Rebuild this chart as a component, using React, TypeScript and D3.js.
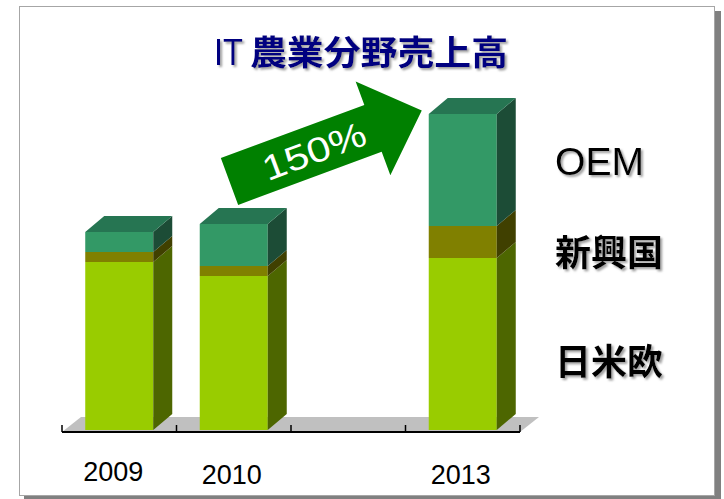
import React from "react";
import * as d3 from "d3";

const categories = ["2009", "2010", "", "2013"];
const seriesNames = ["日米欧", "新興国", "OEM"];
const japanUsEu = [168, 154, 0, 172];
const emerging = [10, 10, 0, 32];
const oem = [20, 42, 0, 112];
const growthLabel = "150%";
const title = "IT農業分野売上高";

const W = 724;
const H = 499;
const DX = 19;
const DY = 16;

const faceColors = [
  { front: "#99CC00", side: "#4D6600", top: "#779E00" },
  { front: "#808000", side: "#404000", top: "#606000" },
  { front: "#339966", side: "#1C4C36", top: "#267552" },
];

export default function App() {
  const x = d3
    .scaleBand<string>()
    .domain(categories.map((c, i) => c || `_${i}`))
    .range([62, 520])
    .paddingInner(0.406)
    .paddingOuter(0.203);
  const y = d3.scaleLinear().domain([0, 350]).range([430, 80]);

  const rows = categories.map((c, i) => ({
    key: c || `_${i}`,
    label: c,
    日米欧: japanUsEu[i],
    新興国: emerging[i],
    OEM: oem[i],
  }));
  const stack = d3.stack<any>().keys(seriesNames)(rows);

  const bw = x.bandwidth();
  const step = x.step();
  const axisY = 432;
  const [r0, r1] = x.range();

  const bars: React.ReactNode[] = [];
  rows.forEach((row, i) => {
    if (!row.label) return;
    const x0 = x(row.key)!;
    const x1 = x0 + bw;
    const total = stack[stack.length - 1][i][1];
    stack.forEach((layer, s) => {
      const [v0, v1] = layer[i];
      if (v1 - v0 <= 0) return;
      const yb = y(v0);
      const yt = y(v1);
      const c = faceColors[s];
      bars.push(
        <g key={`${row.key}-${s}`}>
          <rect x={x0} y={yt} width={bw} height={yb - yt} fill={c.front} />
          <polygon
            points={`${x1},${yb} ${x1 + DX},${yb - DY} ${x1 + DX},${yt - DY} ${x1},${yt}`}
            fill={c.side}
          />
          {v1 === total && (
            <polygon
              points={`${x0},${yt} ${x0 + DX},${yt - DY} ${x1 + DX},${yt - DY} ${x1},${yt}`}
              fill={c.top}
            />
          )}
        </g>
      );
    });
  });

  const ticks = d3.range(categories.length + 1).map((k) => r0 + k * step);

  const rightLabels = [
    { text: "OEM", y: 175, weight: 400, size: 38, len: 89, family: "Liberation Sans, Arial, sans-serif" },
    { text: seriesNames[1], y: 266, weight: 700, size: 36, len: 108, family: "Noto Sans CJK JP, sans-serif" },
    { text: seriesNames[0], y: 375, weight: 700, size: 36, len: 108, family: "Noto Sans CJK JP, sans-serif" },
  ];

  return (
    <svg width={W} height={H} style={{ position: "absolute", left: 0, top: 0 }}>
      <defs>
        <filter id="tshadow" x="-10%" y="-10%" width="130%" height="140%">
          <feDropShadow dx={2} dy={2} stdDeviation={0.8} floodColor="#808080" floodOpacity={0.75} />
        </filter>
      </defs>
      <rect x={0} y={0} width={W} height={H} fill="#ffffff" />
      {/* frame with shadow */}
      <rect x={24} y={11} width={697} height={488} fill="#808080" />
      <rect x={19.5} y={6.5} width={695} height={489} fill="#ffffff" stroke="#a6a6a6" strokeWidth={1} />

      {/* title */}
      <g filter="url(#tshadow)" fill="#000080">
        <text x={214} y={65} fontSize={37} fontFamily="Liberation Sans, Arial, sans-serif" textLength={29} lengthAdjust="spacingAndGlyphs">{title.slice(0, 2)}</text>
        <text x={250} y={65} fontSize={34} fontWeight={700} fontFamily="Noto Sans CJK JP, sans-serif" textLength={258} lengthAdjust="spacingAndGlyphs">{title.slice(2)}</text>
      </g>

      {/* floor */}
      <polygon
        points={`${r0},${axisY} ${r0 + DX},${axisY - 15} ${r1 + DX},${axisY - 15} ${r1},${axisY}`}
        fill="#c0c0c0"
      />

      {bars}

      {/* axis */}
      <line x1={r0} x2={r1} y1={axisY} y2={axisY} stroke="#000" strokeWidth={2} />
      {ticks.map((t, k) => (
        <line key={k} x1={t} x2={t} y1={axisY} y2={axisY - 7} stroke="#000" strokeWidth={1.5} />
      ))}
      {rows.map((row, i) =>
        row.label ? (
          <text
            key={row.key}
            x={x(row.key)! + bw / 2 - (i === 0 ? 6 : 2)}
            y={i === 0 ? 481 : 484}
            textAnchor="middle"
            fontSize={27}
            fontFamily="Liberation Sans, Arial, sans-serif"
            fill="#000"
          >
            {row.label}
          </text>
        ) : null
      )}

      {/* growth arrow */}
      <g transform="translate(229.5,181.5) rotate(-20.3)">
        <polygon points="0,-25 153,-25 153,-50 205,0 153,50 153,25 0,25" fill="#008000" />
        <text
          x={90}
          y={13}
          textAnchor="middle"
          fontSize={35}
          fill="#ffffff"
          fontFamily="Liberation Sans, Arial, sans-serif"
          textLength={108}
          lengthAdjust="spacingAndGlyphs"
        >
          {growthLabel}
        </text>
      </g>

      {/* right-side series labels */}
      {rightLabels.map((l) => (
        <text
          key={l.text}
          x={555}
          y={l.y}
          fill="#000"
          filter="url(#tshadow)"
          fontFamily={l.family}
          fontWeight={l.weight}
          fontSize={l.size}
          textLength={l.len}
          lengthAdjust="spacingAndGlyphs"
        >
          {l.text}
        </text>
      ))}
    </svg>
  );
}
